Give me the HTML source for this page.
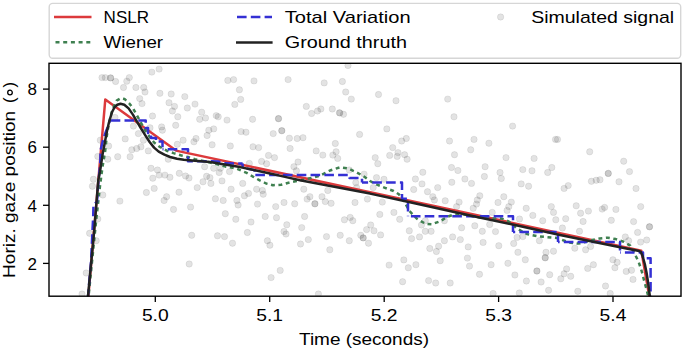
<!DOCTYPE html>
<html><head><meta charset="utf-8">
<style>
html,body{margin:0;padding:0;background:#fff;width:685px;height:350px;overflow:hidden}
svg{display:block;font-family:"Liberation Sans",sans-serif}
text{font-family:"Liberation Sans",sans-serif;fill:#000}
</style></head><body>
<svg width="685" height="350" viewBox="0 0 685 350">
<defs><clipPath id="ax"><rect x="49" y="63.3" width="632" height="232.9"/></clipPath></defs>
<!-- DOTS -->
<g clip-path="url(#ax)" fill="#000" fill-opacity="0.11" stroke="#000" stroke-opacity="0.07" stroke-width="1" id="dots"><circle cx="102.0" cy="77.6" r="3.2"/><circle cx="105.3" cy="77.6" r="3.2"/><circle cx="110.6" cy="77.9" r="3.2"/><circle cx="115.6" cy="81.5" r="3.2"/><circle cx="129.3" cy="77.6" r="3.2"/><circle cx="126.8" cy="81.2" r="3.2"/><circle cx="123.5" cy="87.5" r="3.2"/><circle cx="135.9" cy="87.5" r="3.2"/><circle cx="143.7" cy="87.5" r="3.2"/><circle cx="145.0" cy="92.0" r="3.2"/><circle cx="139.7" cy="98.6" r="3.2"/><circle cx="142.0" cy="103.6" r="3.2"/><circle cx="151.8" cy="72.1" r="3.2"/><circle cx="152.5" cy="116.0" r="3.2"/><circle cx="159.1" cy="69.1" r="3.2"/><circle cx="159.9" cy="93.3" r="3.2"/><circle cx="171.2" cy="94.0" r="3.2"/><circle cx="169.0" cy="102.7" r="3.2"/><circle cx="174.5" cy="106.4" r="3.2"/><circle cx="172.4" cy="111.0" r="3.2"/><circle cx="177.8" cy="116.8" r="3.2"/><circle cx="184.8" cy="96.6" r="3.2"/><circle cx="187.3" cy="108.0" r="3.2"/><circle cx="195.0" cy="104.1" r="3.2"/><circle cx="201.7" cy="112.2" r="3.2"/><circle cx="205.5" cy="118.0" r="3.2"/><circle cx="199.7" cy="119.3" r="3.2"/><circle cx="216.2" cy="115.6" r="3.2"/><circle cx="218.2" cy="116.8" r="3.2"/><circle cx="227.0" cy="120.1" r="3.2"/><circle cx="227.8" cy="80.4" r="3.2"/><circle cx="233.6" cy="79.6" r="3.2"/><circle cx="239.4" cy="89.8" r="3.2"/><circle cx="240.7" cy="99.4" r="3.2"/><circle cx="234.8" cy="104.4" r="3.2"/><circle cx="254.0" cy="80.9" r="3.2"/><circle cx="252.6" cy="119.3" r="3.2"/><circle cx="288.1" cy="79.6" r="3.2"/><circle cx="324.2" cy="82.9" r="3.2"/><circle cx="342.4" cy="81.5" r="3.2"/><circle cx="348.0" cy="65.5" r="3.2"/><circle cx="345.7" cy="92.0" r="3.2"/><circle cx="351.3" cy="99.1" r="3.2"/><circle cx="306.3" cy="106.4" r="3.2"/><circle cx="311.6" cy="113.5" r="3.2"/><circle cx="317.5" cy="111.0" r="3.2"/><circle cx="320.9" cy="109.0" r="3.2"/><circle cx="332.3" cy="109.0" r="3.2"/><circle cx="339.4" cy="112.7" r="3.2"/><circle cx="343.5" cy="114.3" r="3.2"/><circle cx="278.5" cy="118.5" r="3.2"/><circle cx="378.5" cy="94.5" r="3.2"/><circle cx="396.0" cy="100.7" r="3.2"/><circle cx="447.7" cy="99.1" r="3.2"/><circle cx="454.0" cy="116.8" r="3.2"/><circle cx="115.0" cy="117.5" r="3.2"/><circle cx="133.4" cy="126.1" r="3.2"/><circle cx="138.4" cy="133.6" r="3.2"/><circle cx="125.2" cy="138.9" r="3.2"/><circle cx="143.4" cy="140.2" r="3.2"/><circle cx="140.9" cy="146.8" r="3.2"/><circle cx="136.7" cy="148.5" r="3.2"/><circle cx="131.8" cy="149.8" r="3.2"/><circle cx="148.3" cy="150.9" r="3.2"/><circle cx="117.7" cy="156.7" r="3.2"/><circle cx="130.1" cy="156.7" r="3.2"/><circle cx="108.6" cy="146.0" r="3.2"/><circle cx="107.8" cy="159.2" r="3.2"/><circle cx="97.8" cy="156.4" r="3.2"/><circle cx="100.3" cy="140.2" r="3.2"/><circle cx="151.0" cy="168.3" r="3.2"/><circle cx="150.0" cy="127.8" r="3.2"/><circle cx="175.7" cy="125.3" r="3.2"/><circle cx="161.6" cy="126.9" r="3.2"/><circle cx="162.4" cy="130.2" r="3.2"/><circle cx="208.8" cy="130.2" r="3.2"/><circle cx="213.7" cy="128.9" r="3.2"/><circle cx="207.1" cy="135.5" r="3.2"/><circle cx="183.1" cy="140.2" r="3.2"/><circle cx="196.0" cy="138.5" r="3.2"/><circle cx="193.9" cy="141.8" r="3.2"/><circle cx="212.1" cy="144.8" r="3.2"/><circle cx="230.3" cy="146.0" r="3.2"/><circle cx="241.1" cy="131.6" r="3.2"/><circle cx="246.0" cy="132.2" r="3.2"/><circle cx="253.0" cy="146.8" r="3.2"/><circle cx="177.3" cy="144.3" r="3.2"/><circle cx="168.2" cy="159.2" r="3.2"/><circle cx="157.5" cy="170.0" r="3.2"/><circle cx="179.3" cy="173.3" r="3.2"/><circle cx="204.6" cy="166.7" r="3.2"/><circle cx="213.7" cy="168.3" r="3.2"/><circle cx="220.4" cy="168.3" r="3.2"/><circle cx="219.2" cy="172.5" r="3.2"/><circle cx="229.5" cy="171.6" r="3.2"/><circle cx="249.3" cy="163.4" r="3.2"/><circle cx="273.2" cy="133.6" r="3.2"/><circle cx="281.8" cy="130.6" r="3.2"/><circle cx="289.4" cy="138.2" r="3.2"/><circle cx="297.2" cy="138.5" r="3.2"/><circle cx="303.0" cy="137.7" r="3.2"/><circle cx="258.6" cy="147.6" r="3.2"/><circle cx="290.1" cy="148.5" r="3.2"/><circle cx="268.5" cy="155.4" r="3.2"/><circle cx="274.5" cy="157.6" r="3.2"/><circle cx="261.6" cy="161.4" r="3.2"/><circle cx="266.6" cy="163.7" r="3.2"/><circle cx="298.0" cy="162.0" r="3.2"/><circle cx="293.9" cy="166.7" r="3.2"/><circle cx="296.4" cy="170.8" r="3.2"/><circle cx="316.2" cy="150.9" r="3.2"/><circle cx="322.8" cy="155.1" r="3.2"/><circle cx="332.8" cy="155.1" r="3.2"/><circle cx="336.1" cy="151.8" r="3.2"/><circle cx="335.3" cy="143.5" r="3.2"/><circle cx="337.7" cy="158.4" r="3.2"/><circle cx="349.3" cy="170.0" r="3.2"/><circle cx="359.6" cy="134.4" r="3.2"/><circle cx="386.8" cy="128.9" r="3.2"/><circle cx="406.3" cy="138.5" r="3.2"/><circle cx="401.7" cy="141.0" r="3.2"/><circle cx="392.7" cy="147.6" r="3.2"/><circle cx="398.0" cy="152.6" r="3.2"/><circle cx="397.2" cy="156.4" r="3.2"/><circle cx="389.7" cy="155.4" r="3.2"/><circle cx="404.6" cy="154.7" r="3.2"/><circle cx="407.1" cy="159.2" r="3.2"/><circle cx="375.2" cy="157.6" r="3.2"/><circle cx="377.8" cy="163.7" r="3.2"/><circle cx="449.5" cy="141.0" r="3.2"/><circle cx="454.5" cy="154.7" r="3.2"/><circle cx="451.5" cy="167.5" r="3.2"/><circle cx="422.8" cy="172.3" r="3.2"/><circle cx="364.1" cy="174.1" r="3.2"/><circle cx="512.6" cy="126.1" r="3.2"/><circle cx="474.0" cy="139.4" r="3.2"/><circle cx="488.9" cy="143.2" r="3.2"/><circle cx="470.7" cy="149.8" r="3.2"/><circle cx="506.0" cy="157.6" r="3.2"/><circle cx="534.1" cy="158.4" r="3.2"/><circle cx="457.9" cy="170.5" r="3.2"/><circle cx="485.1" cy="166.7" r="3.2"/><circle cx="500.0" cy="172.5" r="3.2"/><circle cx="522.8" cy="169.6" r="3.2"/><circle cx="532.0" cy="170.8" r="3.2"/><circle cx="551.8" cy="167.5" r="3.2"/><circle cx="547.7" cy="172.5" r="3.2"/><circle cx="555.5" cy="139.4" r="3.2"/><circle cx="557.5" cy="139.4" r="3.2"/><circle cx="589.7" cy="151.8" r="3.2"/><circle cx="623.7" cy="161.2" r="3.2"/><circle cx="608.2" cy="173.4" r="3.2"/><circle cx="629.5" cy="171.6" r="3.2"/><circle cx="619.0" cy="181.8" r="3.2"/><circle cx="636.0" cy="188.5" r="3.2"/><circle cx="600.0" cy="179.8" r="3.2"/><circle cx="93.4" cy="179.3" r="3.2"/><circle cx="92.4" cy="186.2" r="3.2"/><circle cx="102.8" cy="195.0" r="3.2"/><circle cx="119.9" cy="201.1" r="3.2"/><circle cx="146.4" cy="192.5" r="3.2"/><circle cx="152.8" cy="178.2" r="3.2"/><circle cx="154.2" cy="188.4" r="3.2"/><circle cx="97.8" cy="219.0" r="3.2"/><circle cx="159.1" cy="175.1" r="3.2"/><circle cx="164.9" cy="175.1" r="3.2"/><circle cx="169.9" cy="177.3" r="3.2"/><circle cx="185.5" cy="176.0" r="3.2"/><circle cx="189.0" cy="178.0" r="3.2"/><circle cx="166.6" cy="196.7" r="3.2"/><circle cx="164.1" cy="200.5" r="3.2"/><circle cx="179.0" cy="192.2" r="3.2"/><circle cx="173.5" cy="209.4" r="3.2"/><circle cx="190.6" cy="207.1" r="3.2"/><circle cx="197.2" cy="187.6" r="3.2"/><circle cx="203.0" cy="181.8" r="3.2"/><circle cx="206.6" cy="176.3" r="3.2"/><circle cx="209.9" cy="177.6" r="3.2"/><circle cx="210.9" cy="183.4" r="3.2"/><circle cx="222.0" cy="180.9" r="3.2"/><circle cx="215.4" cy="198.8" r="3.2"/><circle cx="223.2" cy="200.5" r="3.2"/><circle cx="225.3" cy="213.7" r="3.2"/><circle cx="231.1" cy="189.2" r="3.2"/><circle cx="235.8" cy="219.3" r="3.2"/><circle cx="236.9" cy="200.5" r="3.2"/><circle cx="238.1" cy="205.0" r="3.2"/><circle cx="242.7" cy="183.4" r="3.2"/><circle cx="244.4" cy="195.8" r="3.2"/><circle cx="248.5" cy="193.4" r="3.2"/><circle cx="251.0" cy="222.0" r="3.2"/><circle cx="256.6" cy="189.2" r="3.2"/><circle cx="262.4" cy="190.5" r="3.2"/><circle cx="263.2" cy="194.2" r="3.2"/><circle cx="257.5" cy="204.1" r="3.2"/><circle cx="275.7" cy="206.6" r="3.2"/><circle cx="284.0" cy="202.5" r="3.2"/><circle cx="294.7" cy="203.8" r="3.2"/><circle cx="303.8" cy="189.2" r="3.2"/><circle cx="307.1" cy="199.1" r="3.2"/><circle cx="309.9" cy="196.7" r="3.2"/><circle cx="314.9" cy="203.8" r="3.2"/><circle cx="322.0" cy="196.7" r="3.2"/><circle cx="325.3" cy="201.6" r="3.2"/><circle cx="331.1" cy="203.3" r="3.2"/><circle cx="327.8" cy="190.5" r="3.2"/><circle cx="265.2" cy="216.5" r="3.2"/><circle cx="276.5" cy="217.7" r="3.2"/><circle cx="304.6" cy="216.5" r="3.2"/><circle cx="286.8" cy="224.8" r="3.2"/><circle cx="301.7" cy="227.6" r="3.2"/><circle cx="344.4" cy="219.8" r="3.2"/><circle cx="350.2" cy="217.4" r="3.2"/><circle cx="352.8" cy="220.7" r="3.2"/><circle cx="376.5" cy="177.6" r="3.2"/><circle cx="384.0" cy="179.3" r="3.2"/><circle cx="415.4" cy="179.0" r="3.2"/><circle cx="422.0" cy="183.9" r="3.2"/><circle cx="437.7" cy="187.6" r="3.2"/><circle cx="451.8" cy="182.3" r="3.2"/><circle cx="355.8" cy="182.6" r="3.2"/><circle cx="356.6" cy="187.6" r="3.2"/><circle cx="373.2" cy="187.6" r="3.2"/><circle cx="413.7" cy="189.5" r="3.2"/><circle cx="427.5" cy="191.7" r="3.2"/><circle cx="432.8" cy="196.7" r="3.2"/><circle cx="434.4" cy="200.0" r="3.2"/><circle cx="445.2" cy="200.8" r="3.2"/><circle cx="355.0" cy="202.5" r="3.2"/><circle cx="367.4" cy="199.1" r="3.2"/><circle cx="382.3" cy="202.1" r="3.2"/><circle cx="379.8" cy="214.4" r="3.2"/><circle cx="393.9" cy="212.4" r="3.2"/><circle cx="399.7" cy="219.3" r="3.2"/><circle cx="370.7" cy="225.0" r="3.2"/><circle cx="421.5" cy="225.0" r="3.2"/><circle cx="425.3" cy="220.7" r="3.2"/><circle cx="444.4" cy="220.7" r="3.2"/><circle cx="464.9" cy="179.0" r="3.2"/><circle cx="471.5" cy="183.4" r="3.2"/><circle cx="484.4" cy="176.5" r="3.2"/><circle cx="501.3" cy="178.5" r="3.2"/><circle cx="521.2" cy="183.9" r="3.2"/><circle cx="528.6" cy="186.2" r="3.2"/><circle cx="479.8" cy="195.8" r="3.2"/><circle cx="477.3" cy="200.0" r="3.2"/><circle cx="476.5" cy="204.1" r="3.2"/><circle cx="459.1" cy="202.1" r="3.2"/><circle cx="456.6" cy="206.6" r="3.2"/><circle cx="473.2" cy="208.3" r="3.2"/><circle cx="498.0" cy="202.5" r="3.2"/><circle cx="503.8" cy="196.7" r="3.2"/><circle cx="511.3" cy="202.1" r="3.2"/><circle cx="508.8" cy="206.6" r="3.2"/><circle cx="507.1" cy="210.4" r="3.2"/><circle cx="526.2" cy="208.3" r="3.2"/><circle cx="532.8" cy="215.4" r="3.2"/><circle cx="551.3" cy="206.6" r="3.2"/><circle cx="553.5" cy="212.4" r="3.2"/><circle cx="542.7" cy="220.7" r="3.2"/><circle cx="519.5" cy="219.0" r="3.2"/><circle cx="474.8" cy="225.8" r="3.2"/><circle cx="489.7" cy="224.5" r="3.2"/><circle cx="461.6" cy="227.8" r="3.2"/><circle cx="492.2" cy="212.4" r="3.2"/><circle cx="591.4" cy="181.3" r="3.2"/><circle cx="596.2" cy="180.3" r="3.2"/><circle cx="564.1" cy="188.4" r="3.2"/><circle cx="568.2" cy="185.6" r="3.2"/><circle cx="576.2" cy="205.8" r="3.2"/><circle cx="580.6" cy="213.2" r="3.2"/><circle cx="588.4" cy="211.1" r="3.2"/><circle cx="602.2" cy="209.1" r="3.2"/><circle cx="604.6" cy="207.4" r="3.2"/><circle cx="615.9" cy="209.4" r="3.2"/><circle cx="640.7" cy="206.6" r="3.2"/><circle cx="555.8" cy="219.8" r="3.2"/><circle cx="565.7" cy="218.7" r="3.2"/><circle cx="583.1" cy="221.5" r="3.2"/><circle cx="611.3" cy="220.3" r="3.2"/><circle cx="633.6" cy="221.6" r="3.2"/><circle cx="649.5" cy="226.8" r="3.2"/><circle cx="562.4" cy="228.0" r="3.2"/><circle cx="637.6" cy="232.4" r="3.2"/><circle cx="646.7" cy="240.0" r="3.2"/><circle cx="640.6" cy="242.1" r="3.2"/><circle cx="631.5" cy="270.3" r="3.2"/><circle cx="633.0" cy="279.4" r="3.2"/><circle cx="89.6" cy="233.3" r="3.2"/><circle cx="96.2" cy="240.7" r="3.2"/><circle cx="86.2" cy="273.0" r="3.2"/><circle cx="82.0" cy="294.0" r="3.2"/><circle cx="191.7" cy="235.3" r="3.2"/><circle cx="217.5" cy="235.8" r="3.2"/><circle cx="224.5" cy="236.6" r="3.2"/><circle cx="232.5" cy="243.2" r="3.2"/><circle cx="247.4" cy="232.5" r="3.2"/><circle cx="189.2" cy="264.0" r="3.2"/><circle cx="284.0" cy="231.5" r="3.2"/><circle cx="286.0" cy="234.0" r="3.2"/><circle cx="267.4" cy="240.7" r="3.2"/><circle cx="269.9" cy="245.2" r="3.2"/><circle cx="300.5" cy="244.0" r="3.2"/><circle cx="308.3" cy="239.6" r="3.2"/><circle cx="326.5" cy="236.6" r="3.2"/><circle cx="340.2" cy="235.3" r="3.2"/><circle cx="349.3" cy="240.7" r="3.2"/><circle cx="329.8" cy="249.8" r="3.2"/><circle cx="280.2" cy="270.4" r="3.2"/><circle cx="271.1" cy="277.6" r="3.2"/><circle cx="318.4" cy="294.0" r="3.2"/><circle cx="366.6" cy="229.6" r="3.2"/><circle cx="374.0" cy="230.8" r="3.2"/><circle cx="380.6" cy="234.9" r="3.2"/><circle cx="360.8" cy="235.3" r="3.2"/><circle cx="363.2" cy="237.9" r="3.2"/><circle cx="368.5" cy="243.2" r="3.2"/><circle cx="409.3" cy="230.8" r="3.2"/><circle cx="411.6" cy="238.6" r="3.2"/><circle cx="419.5" cy="236.9" r="3.2"/><circle cx="425.3" cy="231.3" r="3.2"/><circle cx="431.1" cy="231.3" r="3.2"/><circle cx="452.6" cy="236.9" r="3.2"/><circle cx="444.4" cy="240.7" r="3.2"/><circle cx="438.6" cy="246.2" r="3.2"/><circle cx="429.8" cy="248.5" r="3.2"/><circle cx="436.4" cy="251.5" r="3.2"/><circle cx="440.2" cy="260.7" r="3.2"/><circle cx="403.8" cy="259.9" r="3.2"/><circle cx="408.3" cy="267.8" r="3.2"/><circle cx="415.9" cy="264.7" r="3.2"/><circle cx="389.1" cy="265.1" r="3.2"/><circle cx="402.6" cy="281.7" r="3.2"/><circle cx="428.6" cy="280.6" r="3.2"/><circle cx="435.7" cy="283.0" r="3.2"/><circle cx="450.2" cy="283.0" r="3.2"/><circle cx="482.3" cy="231.3" r="3.2"/><circle cx="495.5" cy="231.6" r="3.2"/><circle cx="460.3" cy="239.6" r="3.2"/><circle cx="483.1" cy="242.4" r="3.2"/><circle cx="468.2" cy="246.9" r="3.2"/><circle cx="498.8" cy="245.7" r="3.2"/><circle cx="513.7" cy="243.5" r="3.2"/><circle cx="517.1" cy="237.4" r="3.2"/><circle cx="522.8" cy="236.6" r="3.2"/><circle cx="539.4" cy="240.7" r="3.2"/><circle cx="517.9" cy="252.3" r="3.2"/><circle cx="525.3" cy="259.8" r="3.2"/><circle cx="546.0" cy="252.3" r="3.2"/><circle cx="545.2" cy="257.8" r="3.2"/><circle cx="553.5" cy="251.2" r="3.2"/><circle cx="467.4" cy="258.1" r="3.2"/><circle cx="469.5" cy="266.1" r="3.2"/><circle cx="491.1" cy="264.7" r="3.2"/><circle cx="507.9" cy="263.3" r="3.2"/><circle cx="479.5" cy="274.3" r="3.2"/><circle cx="514.9" cy="275.0" r="3.2"/><circle cx="536.9" cy="271.0" r="3.2"/><circle cx="549.7" cy="274.7" r="3.2"/><circle cx="526.4" cy="281.0" r="3.2"/><circle cx="541.1" cy="282.0" r="3.2"/><circle cx="579.5" cy="231.3" r="3.2"/><circle cx="574.8" cy="248.2" r="3.2"/><circle cx="585.6" cy="249.8" r="3.2"/><circle cx="590.6" cy="246.5" r="3.2"/><circle cx="587.7" cy="268.4" r="3.2"/><circle cx="593.4" cy="264.7" r="3.2"/><circle cx="566.6" cy="268.9" r="3.2"/><circle cx="564.1" cy="273.8" r="3.2"/><circle cx="570.7" cy="276.3" r="3.2"/><circle cx="560.8" cy="278.8" r="3.2"/><circle cx="612.9" cy="259.8" r="3.2"/><circle cx="617.1" cy="262.3" r="3.2"/><circle cx="614.9" cy="267.7" r="3.2"/><circle cx="626.2" cy="271.4" r="3.2"/><circle cx="625.3" cy="236.9" r="3.2"/><circle cx="628.6" cy="240.7" r="3.2"/><circle cx="548.6" cy="290.3" r="3.2"/><circle cx="577.8" cy="291.3" r="3.2"/><circle cx="605.5" cy="286.0" r="3.2"/><circle cx="610.2" cy="293.5" r="3.2"/><circle cx="493.1" cy="293.5" r="3.2"/><circle cx="519.3" cy="293.0" r="3.2"/><circle cx="608.3" cy="173.4" r="3.2"/><circle cx="314.9" cy="203.8" r="3.2"/><circle cx="363.2" cy="237.9" r="3.2"/><circle cx="545.2" cy="257.8" r="3.2"/><circle cx="536.9" cy="271.0" r="3.2"/><circle cx="649.5" cy="226.8" r="3.2"/><circle cx="278.5" cy="118.8" r="3.2"/><circle cx="281.8" cy="130.8" r="3.2"/><circle cx="339.8" cy="113.0" r="3.2"/><circle cx="110.6" cy="77.9" r="3.2"/></g>
<!-- CURVES -->
<g clip-path="url(#ax)" fill="none" stroke-width="2.5" stroke-linejoin="round">
<polyline id="ns" stroke="#dc3a3c" points="87.0,312.0 88.4,296.0 105.3,99.4 176.0,150.6 641.3,250.6 649.2,296.0 650.5,312.0"/>
<polyline id="wi" stroke="#3f8050" stroke-dasharray="3.9 3.595" stroke-dashoffset="3.745" points="86.8,312.0 88.6,296.0 92.0,262.0 96.0,222.0 100.0,186.0 102.6,166.3 105.2,150.9 106.9,135.4 109.0,123.0 111.5,113.0 114.0,106.0 116.7,100.6 120.7,98.3 124.7,99.1 129.3,103.4 133.3,108.8 137.9,117.1 141.4,123.6 145.0,130.0 149.3,136.4 154.1,142.5 159.8,146.9 166.7,150.7 173.5,153.1 181.5,155.5 188.0,157.0 195.0,159.2 205.0,161.4 215.0,163.6 225.0,166.4 236.4,168.6 246.7,172.9 252.4,176.3 259.3,180.2 266.1,183.5 273.0,185.2 281.0,184.8 290.0,182.4 305.0,179.5 320.0,175.8 330.0,170.5 340.0,167.3 348.0,168.5 356.0,172.0 364.0,176.5 370.0,181.0 376.4,184.4 385.0,187.8 393.6,191.0 398.9,194.3 404.3,201.8 409.6,211.2 417.1,218.9 425.7,223.9 432.1,224.2 440.7,221.0 447.1,216.9 453.5,214.6 462.1,214.0 470.0,215.7 480.0,217.6 490.0,218.5 501.4,218.6 508.6,221.4 517.1,228.6 527.1,234.1 537.1,236.2 547.1,237.1 556.6,237.9 563.1,240.2 571.0,242.8 578.3,243.6 584.2,242.4 590.7,240.4 599.9,238.4 607.8,237.7 615.7,239.1 623.6,241.7 630.2,245.6 635.4,255.3 638.7,262.0 641.7,271.2 643.6,278.6 646.4,288.9 648.2,296.0 649.0,312.0"/>
<g id="tv" stroke="#3430d4" stroke-dasharray="9.6 4.2"><polyline stroke-dashoffset="0.6" points="86.5,312.0 88.0,296.0 91.0,262.0 92.6,228.0 93.2,216.0 93.5,204.0 97.0,202.0 98.5,180.0 100.2,165.0 100.6,150.0 103.6,138.0 106.5,130.0 108.2,126.0 109.8,120.5"/><polyline stroke-dashoffset="12.9" points="109.8,120.5 145.7,120.5 145.7,128.0 148.0,128.0 148.0,133.0 151.0,133.0 151.0,138.0 156.0,138.0 156.0,141.6 162.5,141.6 162.5,149.2"/><polyline stroke-dashoffset="8.6" points="162.5,149.2 188.0,149.2 188.0,161.2 212.0,161.2 218.0,161.4 224.0,163.3 242.6,163.6"/><polyline stroke-dashoffset="5.7" points="242.6,163.6 242.6,167.6 254.5,170.1 254.5,175.0 349.5,175.0 349.5,178.0 362.0,178.0 362.0,182.4"/><polyline stroke-dashoffset="3.5" points="362.0,182.4 402.0,182.4 402.0,198.8 408.0,198.8 408.0,216.2"/><polyline stroke-dashoffset="10.9" points="408.0,216.2 513.0,216.2 513.0,232.1"/><polyline stroke-dashoffset="7.4" points="513.0,232.1 558.0,232.1 558.0,241.9"/><polyline stroke-dashoffset="8.0" points="558.0,241.9 620.0,241.9 620.0,252.4"/><polyline stroke-dashoffset="8.9" points="620.0,252.4 643.0,252.4 643.0,258.2 650.6,258.2 650.6,312.0"/></g>
<polyline id="gt" stroke="#222" points="86.4,312.0 88.0,296.0 94.0,233.0 98.3,180.0 100.0,171.5 102.6,154.3 105.2,140.6 107.0,131.0 108.7,123.5 110.4,117.5 112.1,112.0 114.4,107.5 117.3,104.7 120.5,103.7 124.3,104.7 128.6,108.4 132.9,114.6 137.1,121.8 141.4,129.0 145.5,135.6 149.8,142.2 154.1,147.6 158.7,151.6 164.4,154.7 170.1,157.0 177.0,158.7 183.8,159.8 195.0,160.8 210.0,162.1 225.0,164.4 240.0,167.1 255.0,170.2 270.0,173.5 285.0,176.9 300.0,180.3 370.0,193.6 410.0,202.3 470.0,215.5 515.0,225.0 560.0,235.0 625.0,248.2 638.0,250.8 640.6,251.6 642.6,256.0 644.8,264.0 646.6,273.0 648.3,284.0 649.8,296.0 650.5,312.0"/>
</g>
<!-- AXES -->
<rect x="49" y="63.3" width="632" height="232.9" fill="none" stroke="#000" stroke-width="1.4"/>
<g stroke="#000" stroke-width="1.3">
<line x1="43" y1="89.1" x2="49" y2="89.1"/>
<line x1="43" y1="147.2" x2="49" y2="147.2"/>
<line x1="43" y1="205.3" x2="49" y2="205.3"/>
<line x1="43" y1="263.4" x2="49" y2="263.4"/>
<line x1="155.3" y1="296" x2="155.3" y2="302"/>
<line x1="269.7" y1="296" x2="269.7" y2="302"/>
<line x1="384.2" y1="296" x2="384.2" y2="302"/>
<line x1="498.6" y1="296" x2="498.6" y2="302"/>
<line x1="613" y1="296" x2="613" y2="302"/>
</g>
<g font-size="17" text-anchor="end">
<text x="37" y="95.3">8</text>
<text x="37" y="153.4">6</text>
<text x="37" y="211.5">4</text>
<text x="37" y="269.6">2</text>
</g>
<g font-size="17">
<text x="141.9" y="321" textLength="26.8" lengthAdjust="spacingAndGlyphs">5.0</text>
<text x="256.3" y="321" textLength="26.8" lengthAdjust="spacingAndGlyphs">5.1</text>
<text x="370.8" y="321" textLength="26.8" lengthAdjust="spacingAndGlyphs">5.2</text>
<text x="485.2" y="321" textLength="26.8" lengthAdjust="spacingAndGlyphs">5.3</text>
<text x="599.6" y="321" textLength="26.8" lengthAdjust="spacingAndGlyphs">5.4</text>
</g>
<text x="299" y="344.7" font-size="17" textLength="130" lengthAdjust="spacingAndGlyphs">Time (seconds)</text>
<g transform="translate(15.4,276.6) rotate(-90)" font-size="17">
<text x="-1.3" y="0" textLength="167" lengthAdjust="spacingAndGlyphs">Horiz. gaze position</text>
<text x="173.6" y="0">(</text>
<circle cx="184.1" cy="-5.4" r="2.3" fill="none" stroke="#000" stroke-width="1.3"/>
<text x="189" y="0">)</text>
</g>
<!-- LEGEND -->
<rect x="49.2" y="3.4" width="631.5" height="54.8" rx="3.5" fill="#fff" stroke="#d6d6d6" stroke-width="1.4"/>
<g fill="none" stroke-width="2.5">
<line x1="54" y1="17.1" x2="91.5" y2="17.1" stroke="#dc3a3c"/>
<line x1="55.5" y1="42.3" x2="91.5" y2="42.3" stroke="#3f8050" stroke-dasharray="4 3.7"/>
<line x1="237" y1="17.1" x2="272" y2="17.1" stroke="#3430d4" stroke-dasharray="9.6 4.2"/>
<line x1="236" y1="42.4" x2="272.6" y2="42.4" stroke="#222"/>
</g>
<circle cx="500.6" cy="17" r="3.2" fill="#000" fill-opacity="0.11" stroke="#000" stroke-opacity="0.07" stroke-width="1"/>
<g font-size="17">
<text x="103.6" y="23.4" textLength="45.4" lengthAdjust="spacingAndGlyphs">NSLR</text>
<text x="103.6" y="47.9" textLength="59.5" lengthAdjust="spacingAndGlyphs">Wiener</text>
<text x="284.8" y="23.4" textLength="125.8" lengthAdjust="spacingAndGlyphs">Total Variation</text>
<text x="284.8" y="47.9" textLength="122.2" lengthAdjust="spacingAndGlyphs">Ground thruth</text>
<text x="531.2" y="23.4" textLength="143" lengthAdjust="spacingAndGlyphs">Simulated signal</text>
</g>
</svg>
</body></html>
